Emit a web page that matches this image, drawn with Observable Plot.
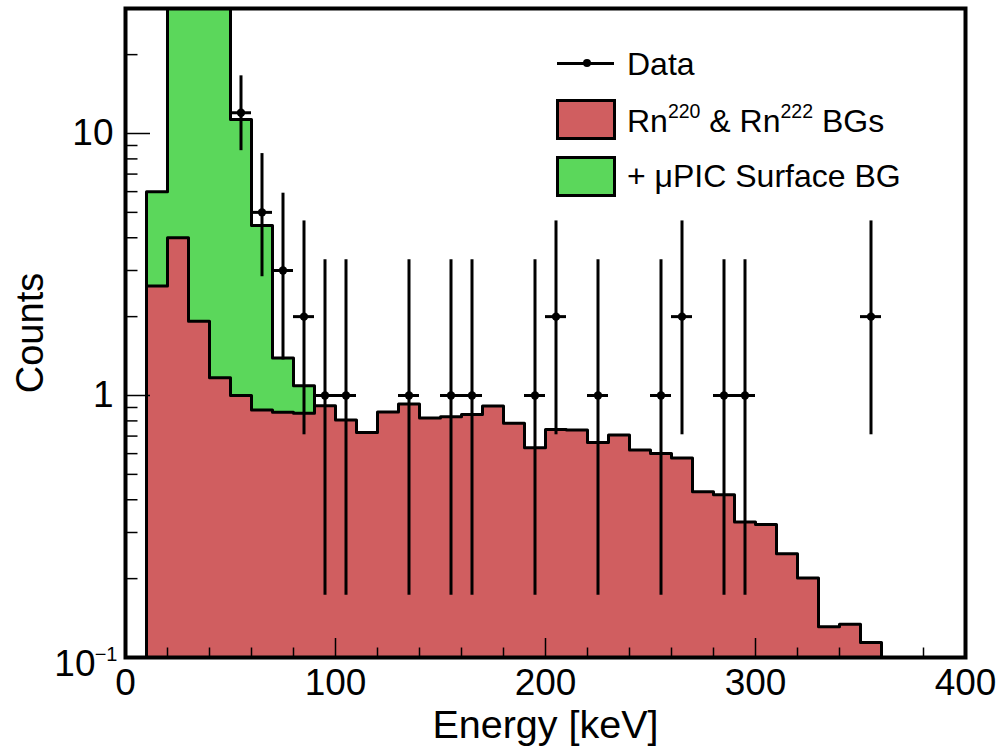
<!DOCTYPE html>
<html><head><meta charset="utf-8">
<script src="https://cdn.jsdelivr.net/npm/d3@7"></script>
<script src="https://cdn.jsdelivr.net/npm/@observablehq/plot@0.6"></script>
<style>
body{margin:0;background:#fff;}
#wrap{position:relative;width:996px;height:749px;font-family:"Liberation Sans",Arial,Helvetica,sans-serif;color:#000;}
#wrap svg{display:block;}
.lg{position:absolute;}
.lt{position:absolute;left:627px;font-size:32px;line-height:32px;white-space:nowrap;}
.lt sup{font-size:19.5px;vertical-align:baseline;position:relative;top:-14px;}
.box{position:absolute;left:556px;width:60px;height:41px;border:3px solid #000;box-sizing:border-box;}
</style></head><body><div id="wrap"></div>
<script>
// Histogram bins (10 keV wide), lower edges
const binStart = [10,20,30,40,50,60,70,80,90,100,110,120,130,140,150,160,170,180,190,200,210,220,230,240,250,260,270,280,290,300,310,320,330,340,350];
// Rn220 & Rn222 background
const rnBG = [2.62,4.0,1.92,1.17,1.00,0.88,0.864,0.855,0.914,0.806,0.723,0.865,0.928,0.82,0.83,0.847,0.912,0.783,0.632,0.742,0.738,0.662,0.706,0.619,0.601,0.578,0.429,0.418,0.329,0.322,0.249,0.201,0.131,0.134,0.114];
// Total = Rn + μPIC surface background
const totalStart = [10,20,30,40,50,60,70,80];
const totalBG = [6.0,45,60,35,11.3,4.46,1.39,1.09];
// Data points
const dataEnergy = [55,65,75,85,95,105,135,155,165,195,205,225,255,265,285,295,355];
const dataCounts = [12,5,3,2,1,1,1,1,1,1,2,1,1,2,1,1,2];
const dataErrLow = [8.6,2.84,1.367,0.708,0.173,0.173,0.173,0.173,0.173,0.173,0.708,0.173,0.173,0.708,0.173,0.173,0.708];
const dataErrHigh = [16.6,8.382,5.918,4.638,3.30,3.30,3.30,3.30,3.30,3.30,4.638,3.30,3.30,4.638,3.30,3.30,4.638];
const binWidth = 10;
// Axis ticks
const xMajorTicks = [0,100,200,300,400];
const xMinorTicks = [20,40,60,80,120,140,160,180,220,240,260,280,320,340,360,380];
const yMajorTicks = [0.1,1,10];
const yMinorTicks = [0.2,0.3,0.4,0.5,0.6,0.7,0.8,0.9,2,3,4,5,6,7,8,9,20];
const xLabel = "Energy [keV]";
const yLabel = "Counts";

const RED = "#D05E60";
const GREEN = "#5BD75B";
const FLOOR = yMajorTicks[0];
const W = 996, H = 749, ML = 125, MR = 31, MT = 8, MB = 92;
const FW = W - ML - MR, FH = H - MT - MB;

function histRows(starts, vals) {
  return starts.map((s, i) => ({x1: s, x2: s + binWidth, v: vals[i]}));
}
function outline(starts, vals) {
  const pts = [{x: starts[0], y: FLOOR}];
  starts.forEach((s, i) => { pts.push({x: s, y: vals[i]}); pts.push({x: s + binWidth, y: vals[i]}); });
  pts.push({x: starts[starts.length - 1] + binWidth, y: FLOOR});
  return pts;
}
const rnRows = histRows(binStart, rnBG);
const totRows = histRows(totalStart, totalBG);
const pts = dataEnergy.map((e, i) => ({e, c: dataCounts[i], lo: dataErrLow[i], hi: dataErrHigh[i]}));

const plot = Plot.plot({
  width: W, height: H,
  marginLeft: ML, marginRight: MR, marginTop: MT, marginBottom: MB,
  style: {fontFamily: "'Liberation Sans', Arial, Helvetica, sans-serif", background: "white", color: "black"},
  x: {domain: [0, 400]},
  y: {type: "log", domain: [0.1, 30]},
  marks: [
    Plot.rect(totRows, {x1: "x1", x2: "x2", y1: FLOOR, y2: "v", fill: GREEN, clip: true}),
    Plot.line(outline(totalStart, totalBG), {x: "x", y: "y", stroke: "black", strokeWidth: 3, clip: true}),
    Plot.rect(rnRows, {x1: "x1", x2: "x2", y1: FLOOR, y2: "v", fill: RED, clip: true}),
    Plot.line(outline(binStart, rnBG), {x: "x", y: "y", stroke: "black", strokeWidth: 3, clip: true}),
    Plot.ruleX(pts, {x: "e", y1: "lo", y2: "hi", stroke: "black", strokeWidth: 3, clip: true}),
    Plot.ruleY(pts, {y: "c", x1: d => d.e - binWidth / 2, x2: d => d.e + binWidth / 2, stroke: "black", strokeWidth: 3}),
    Plot.dot(pts, {x: "e", y: "c", r: 4.2, fill: "black", stroke: "none"}),
    // ticks (inward)
    Plot.tickX(xMajorTicks, {x: d => d, insetTop: FH - 19, stroke: "black", strokeWidth: 1.5}),
    Plot.tickX(xMinorTicks, {x: d => d, insetTop: FH - 9.5, stroke: "black", strokeWidth: 1.5}),
    Plot.tickY(yMajorTicks, {y: d => d, insetRight: FW - 25, stroke: "black", strokeWidth: 1.5}),
    Plot.tickY(yMinorTicks, {y: d => d, insetRight: FW - 12.5, stroke: "black", strokeWidth: 1.5}),
    Plot.frame({stroke: "black", strokeWidth: 4}),
    // tick labels
    Plot.axisX({ticks: xMajorTicks, tickSize: 0, tickPadding: 11, fontSize: 37, tickFormat: d => String(d), label: null}),
    Plot.axisY({ticks: yMajorTicks.slice(1), tickSize: 0, tickPadding: 12, fontSize: 37, tickFormat: d => String(d), label: null}),
    Plot.text([yMajorTicks[0]], {y: d => d, frameAnchor: "left", text: () => "10", textAnchor: "end", dx: -30, dy: 7, fontSize: 37}),
    Plot.text([yMajorTicks[0]], {y: d => d, frameAnchor: "left", text: () => "\u22121", textAnchor: "end", dx: -8, dy: -3, fontSize: 20}),
    // axis titles
    Plot.text([yLabel], {text: d => d, frameAnchor: "left", rotate: -90, dx: -83, lineAnchor: "bottom", textAnchor: "middle", fontSize: 38}),
    Plot.text([xLabel], {text: d => d, frameAnchor: "bottom", dy: 80, lineAnchor: "bottom", textAnchor: "middle", fontSize: 39.5})
  ]
});

const wrap = document.getElementById("wrap");
wrap.appendChild(plot);
const legend = `
<div class="lg" style="left:557px;top:61.5px;width:57px;height:3px;background:#000"></div>
<div class="lg" style="left:582.8px;top:58.8px;width:8.4px;height:8.4px;border-radius:50%;background:#000"></div>
<div class="lt" style="top:47.9px">Data</div>
<div class="box" style="top:99px;background:${RED}"></div>
<div class="lt" style="top:104.6px">Rn<sup>220</sup> &amp; Rn<sup>222</sup> BGs</div>
<div class="box" style="top:155.5px;background:${GREEN}"></div>
<div class="lt" style="top:159.6px">+ \u03BCPIC Surface BG</div>`;
wrap.insertAdjacentHTML("beforeend", legend);
</script>
</body></html>
